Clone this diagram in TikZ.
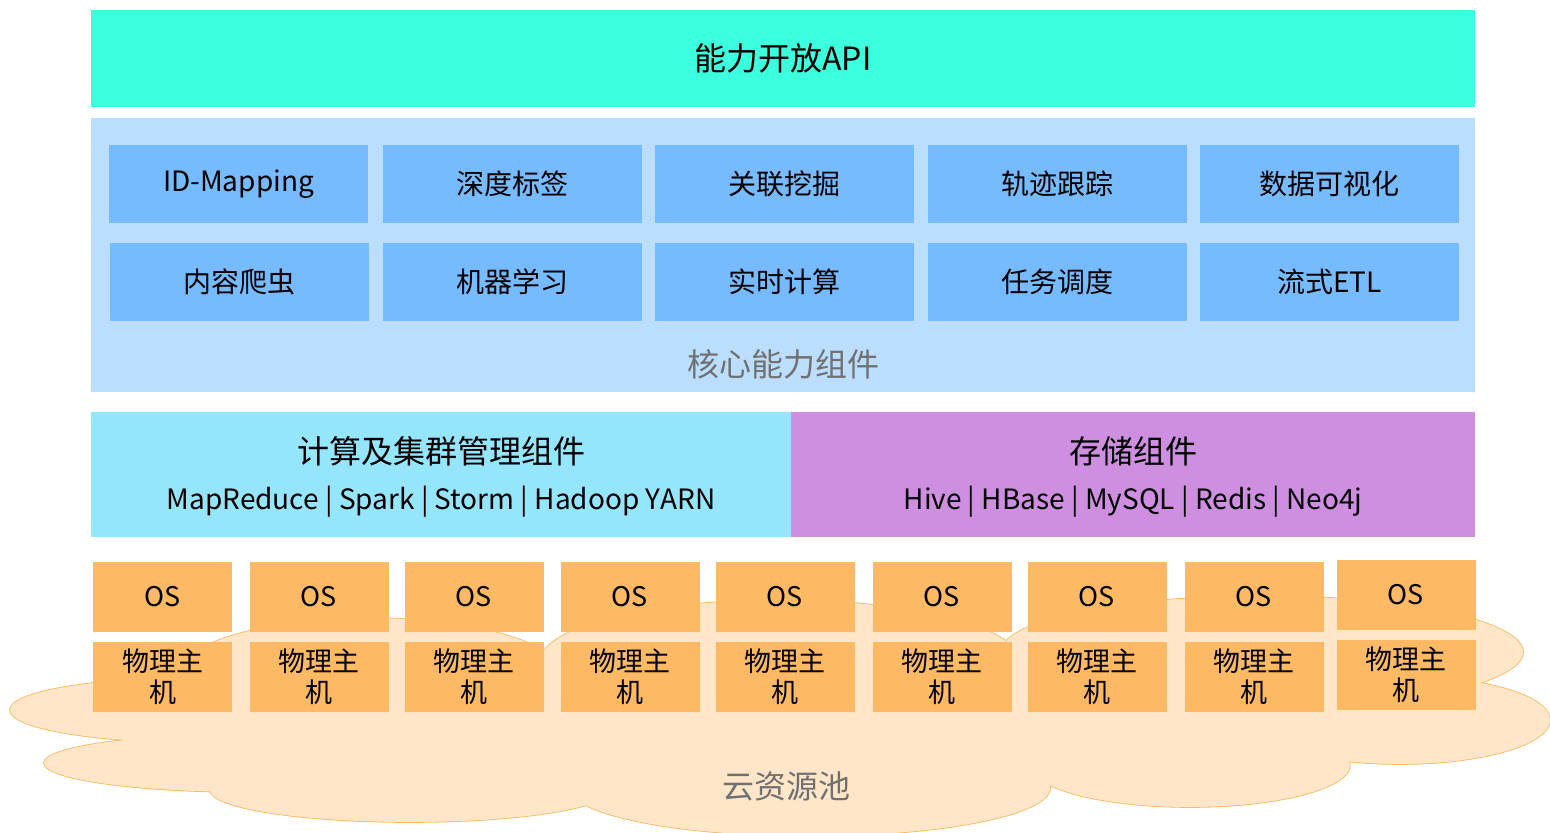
\documentclass[tikz,border=0pt]{standalone}
\usepackage{fontspec}
\setmainfont{Noto Sans CJK SC}
\usepackage{tikz}
\usetikzlibrary{positioning}

\definecolor{apiC}{RGB}{60,255,222}
\definecolor{coreC}{RGB}{187,222,255}
\definecolor{partC}{RGB}{118,187,255}
\definecolor{clusterC}{RGB}{149,229,253}
\definecolor{storeC}{RGB}{206,143,224}
\definecolor{hostC}{RGB}{253,185,99}
\definecolor{cloudC}{RGB}{255,230,201}
\definecolor{cloudLine}{RGB}{251,182,92}
\definecolor{grayT}{RGB}{112,112,112}

\tikzset{
  layer/.style={fill=#1, inner sep=0pt, minimum width=692pt},
  part/.style={fill=partC, inner sep=0pt, minimum width=129.5pt, minimum height=39pt, font=\fontsize{14}{16}\selectfont},
  osbox/.style={fill=hostC, inner sep=0pt, minimum width=69.5pt, minimum height=35pt, font=\fontsize{13.5}{15.5}\selectfont},
  hostbox/.style={osbox, align=center},
  lobe/.style={fill=cloudC, draw=cloudLine, line width=0.8pt},
  bigtext/.style={font=\fontsize{16}{18}\selectfont},
  subtext/.style={font=\fontsize{14}{16}\selectfont}
}

\begin{document}
\begin{tikzpicture}[x=0.5pt, y=-0.5pt]
            \useasboundingbox (0,0) rectangle (1550,832);
            % cloud pool
            \draw[lobe] (190,710) ellipse [x radius=90pt, y radius=16pt];
            \draw[lobe] (250,763) ellipse [x radius=103pt, y radius=14.5pt];
            \draw[lobe] (410,790) ellipse [x radius=100pt, y radius=16pt];
            \draw[lobe] (810,788) ellipse [x radius=120pt, y radius=24pt];
            \draw[lobe] (1190,765) ellipse [x radius=80pt, y radius=21pt];
            \draw[lobe] (1400,720) ellipse [x radius=75pt, y radius=22pt];
            \draw[lobe] (1262,652) ellipse [x radius=130.5pt, y radius=28pt];
            \draw[lobe] (780,662) ellipse [x radius=120pt, y radius=31pt];
            \draw[lobe] (370,682) ellipse [x radius=100pt, y radius=32pt];
            \fill[cloudC] (190,710) ellipse [x radius=90pt, y radius=16pt];
            \fill[cloudC] (250,763) ellipse [x radius=103pt, y radius=14.5pt];
            \fill[cloudC] (410,790) ellipse [x radius=100pt, y radius=16pt];
            \fill[cloudC] (810,788) ellipse [x radius=120pt, y radius=24pt];
            \fill[cloudC] (1190,765) ellipse [x radius=80pt, y radius=21pt];
            \fill[cloudC] (1400,720) ellipse [x radius=75pt, y radius=22pt];
            \fill[cloudC] (1262,652) ellipse [x radius=130.5pt, y radius=28pt];
            \fill[cloudC] (780,662) ellipse [x radius=120pt, y radius=31pt];
            \fill[cloudC] (370,682) ellipse [x radius=100pt, y radius=32pt];
            \fill[cloudC] (230,680) rectangle (1300,780);
            \fill[cloudC] (990,650) rectangle (1060,700);
            \draw (786,786) node[bigtext, text=grayT] (pool) {云资源池};

            % api layer
            \draw (783,58.5) node[layer=apiC, minimum height=48.5pt, bigtext] (api) {能力开放API};

            % core components
            \draw (783,255) node[layer=coreC, minimum height=137pt] (core) {};
            \draw (783,364) node[bigtext, text=grayT] (coreT) {核心能力组件};
            \draw (238.5,184) node[part] (idm) {ID-Mapping};
            \draw (512,184) node[part] (tag) {深度标签};
            \draw (784,184) node[part] (mine) {关联挖掘};
            \draw (1057,184) node[part] (track) {轨迹跟踪};
            \draw (1329.5,184) node[part] (vis) {数据可视化};
            \draw (239.5,282) node[part] (crawl) {内容爬虫};
            \draw (512,282) node[part] (ml) {机器学习};
            \draw (784,282) node[part] (rt) {实时计算};
            \draw (1057,282) node[part] (sched) {任务调度};
            \draw (1329.5,282) node[part] (etl) {流式ETL};

            % compute and storage
            \draw (441,474.5) node[fill=clusterC, minimum width=350pt, minimum height=62.5pt, inner sep=0pt] (comp) {};
            \draw (1133,474.5) node[fill=storeC, minimum width=342pt, minimum height=62.5pt, inner sep=0pt] (store) {};
            \draw (441,451) node[bigtext] (compT) {计算及集群管理组件};
            \draw (441,502) node[subtext] (compS) {MapReduce | Spark | Storm | Hadoop YARN};
            \draw (1133,451) node[bigtext] (storeT) {存储组件};
            \draw (1133,502) node[subtext] (storeS) {Hive | HBase | MySQL | Redis | Neo4j};

            % machines
            \draw (162.5,597) node[osbox] (os1) {OS};
            \draw (319,597) node[osbox] (os2) {OS};
            \draw (474,597) node[osbox] (os3) {OS};
            \draw (630,597) node[osbox] (os4) {OS};
            \draw (785,597) node[osbox] (os5) {OS};
            \draw (942,597) node[osbox] (os6) {OS};
            \draw (1097,597) node[osbox] (os7) {OS};
            \draw (1254,597) node[osbox] (os8) {OS};
            \draw (1406,595) node[osbox] (os9) {OS};
            \draw (162.5,677) node[hostbox] (pm1) {物理主\\机};
            \draw (319,677) node[hostbox] (pm2) {物理主\\机};
            \draw (474,677) node[hostbox] (pm3) {物理主\\机};
            \draw (630,677) node[hostbox] (pm4) {物理主\\机};
            \draw (785,677) node[hostbox] (pm5) {物理主\\机};
            \draw (942,677) node[hostbox] (pm6) {物理主\\机};
            \draw (1097,677) node[hostbox] (pm7) {物理主\\机};
            \draw (1254,677) node[hostbox] (pm8) {物理主\\机};
            \draw (1406,675) node[hostbox] (pm9) {物理主\\机};

            \end{tikzpicture}
\end{document}
